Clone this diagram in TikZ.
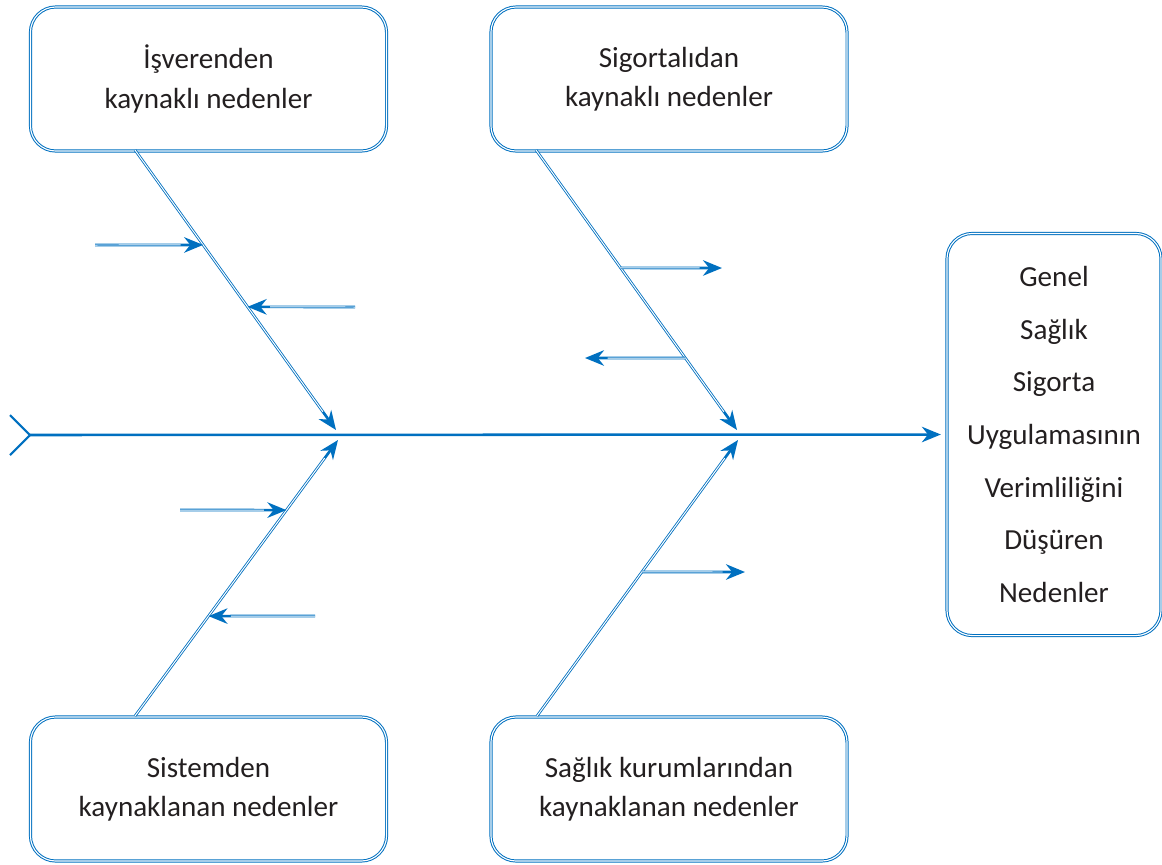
\documentclass[tikz,border=0pt]{standalone}
\usepackage{fontspec}
\setmainfont{Carlito}
\usetikzlibrary{arrows.meta, calc}
\definecolor{fishblue}{RGB}{0,112,192}
\definecolor{txtgray}{RGB}{35,31,32}

% double bone: solid blue with tip, then a white core that stops before the tip
\newcommand{\fishbone}[2]{%
    \draw[boneouter] (#1) -- (#2);
    \draw[boneinner] (#1) -- ($(#2)!16pt!(#1)$);}

\begin{document}
\begin{tikzpicture}[x=0.025cm, y=-0.025cm, >={Stealth[length=13.5pt, width=11pt]},
    font=\fontsize{20.7}{28}\selectfont, text=txtgray,
    cause/.style={draw=fishblue, double=white, double distance=0.8pt, line width=0.7pt,
        rounded corners=18pt, minimum width=8.9cm, minimum height=3.6cm, align=center},
    effect/.style={cause, minimum width=5.35cm, minimum height=10.05cm},
    boneouter/.style={draw=fishblue, line width=1.9pt, ->},
    boneinner/.style={draw=white, line width=0.7pt},
    spine/.style={draw=fishblue, line width=1.8pt}]

    % frame
    \useasboundingbox (0,0) rectangle (1162,864);

    % === BOXES ===
    \node[cause] (isv) at (208.5,79) {İşverenden\\kaynaklı nedenler};
    \node[cause] (sig) at (669,79) {Sigortalıdan\\kaynaklı nedenler};
    \node[cause] (sis) at (208.5,789) {Sistemden\\kaynaklanan nedenler};
    \node[cause] (sag) at (669,789) {Sağlık kurumlarından\\kaynaklanan nedenler};
    \node[effect, font=\fontsize{20.7}{37.5}\selectfont] (eff) at (1054,434.5)
        {Genel\\Sağlık\\Sigorta\\Uygulamasının\\Verimliliğini\\Düşüren\\Nedenler};

    % === SPINE ===
    \coordinate (tail) at (30,435);
    \coordinate (tailA) at (10,415);
    \coordinate (tailB) at (10,455);
    \draw[spine, line width=1.5pt] (tailA) -- (tail) -- (tailB);
    \draw[spine, ->, shorten >=4pt] (tail) -- (eff.west);

    % === BONES ===
    \coordinate (isvroot) at (135,150);
    \coordinate (isvtip) at (336,430);
    \coordinate (sigroot) at (536,150);
    \coordinate (sigtip) at (737,430);
    \coordinate (sisroot) at (135,716);
    \coordinate (sistip) at (338,440);
    \coordinate (sagroot) at (537,716);
    \coordinate (sagtip) at (738,440);
    \fishbone{isvroot}{isvtip}
    \fishbone{sigroot}{sigtip}
    \fishbone{sisroot}{sistip}
    \fishbone{sagroot}{sagtip}

    % === SUB CAUSES ===
    \coordinate (a1) at (95,245);
    \coordinate (a2) at (355,307);
    \coordinate (b1) at (722,268);
    \coordinate (b2) at (585,358);
    \coordinate (c1) at (180,510);
    \coordinate (c2) at (315,616);
    \coordinate (d1) at (745,572);
    \coordinate (a1x) at ($(isvroot)!0.339!(isvtip)$);
    \coordinate (a2x) at ($(isvroot)!0.56!(isvtip)$);
    \coordinate (b1x) at ($(sigroot)!0.421!(sigtip)$);
    \coordinate (b2x) at ($(sigroot)!0.743!(sigtip)$);
    \coordinate (c1x) at ($(sisroot)!0.746!(sistip)$);
    \coordinate (c2x) at ($(sisroot)!0.362!(sistip)$);
    \coordinate (d1x) at ($(sagroot)!0.522!(sagtip)$);
    \fishbone{a1}{a1x}
    \fishbone{a2}{a2x}
    \fishbone{b1x}{b1}
    \fishbone{b2x}{b2}
    \fishbone{c1}{c1x}
    \fishbone{c2}{c2x}
    \fishbone{d1x}{d1}

\end{tikzpicture}
\end{document}
